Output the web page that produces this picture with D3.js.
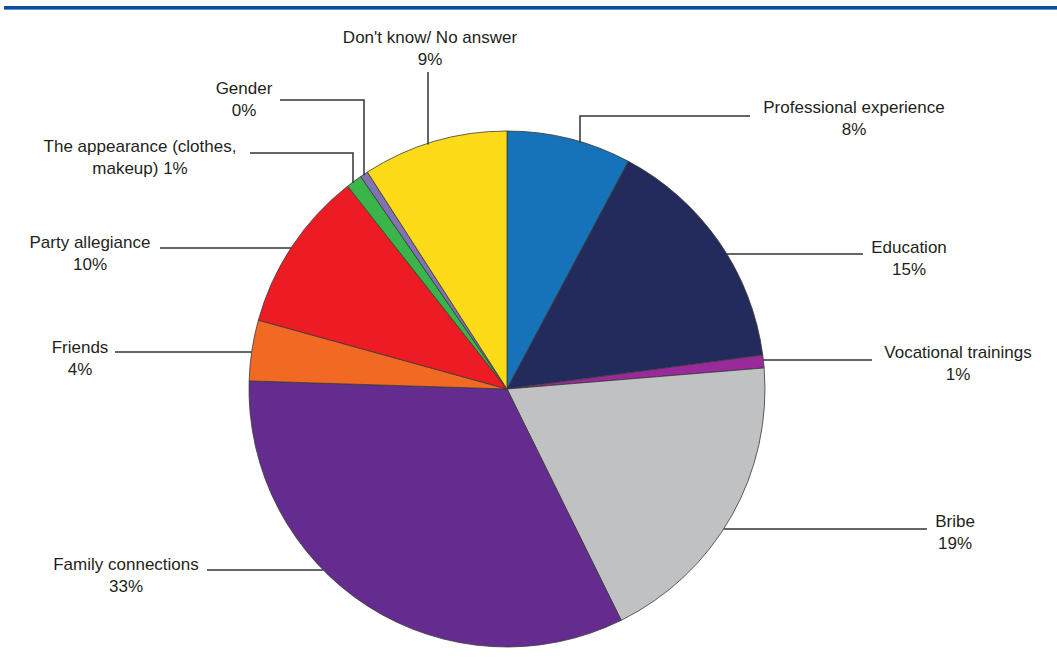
<!DOCTYPE html>
<html>
<head>
<meta charset="utf-8">
<script src="https://cdn.jsdelivr.net/npm/d3@7"></script>
<style>
  body { margin: 0; background: #fff; }
  svg { display: block; }
  .lbl { font-family: "Liberation Sans", Arial, sans-serif; font-size: 17px; fill: #231f20; }
</style>
</head>
<body>
<svg id="chart"></svg>
<script>
const width = 1057;
const height = 660;

// slices, clockwise from 12 o'clock
const categories = ["Professional experience", "Education", "Vocational trainings", "Bribe",
  "Family connections", "Friends", "Party allegiance", "The appearance (clothes, makeup)",
  "Gender", "Don't know/ No answer"];
const shares = [7.8, 15.1, 0.8, 19.0, 32.8, 3.8, 10.1, 1.0, 0.5, 9.1];
const percentLabels = ["8%", "15%", "1%", "19%", "33%", "4%", "10%", "1%", "0%", "9%"];
const colors = ["#1673b9", "#222b5b", "#9a2a99", "#c0c1c3", "#652c8f",
  "#f26924", "#ed1c24", "#3ab54a", "#8172b4", "#fedb18"];

// label layout: text lines, text centre, leader line
// kind "h": horizontal from lx at y ly to the circle
// kind "elbow": horizontal from lx to ex at ly, then down to the circle
// kind "v": vertical at ex from ly down to the circle
const labelLayout = [
  {lines: ["Professional experience", "8%"], tx: 854, ty: 107, kind: "elbow", lx: 750, ly: 116, ex: 580},
  {lines: ["Education", "15%"], tx: 909, ty: 247, kind: "h", lx: 863, ly: 254},
  {lines: ["Vocational trainings", "1%"], tx: 958, ty: 352, kind: "h", lx: 872, ly: 360},
  {lines: ["Bribe", "19%"], tx: 955, ty: 521, kind: "h", lx: 927, ly: 529},
  {lines: ["Family connections", "33%"], tx: 126, ty: 564, kind: "h", lx: 207, ly: 570},
  {lines: ["Friends", "4%"], tx: 80, ty: 347, kind: "h", lx: 115, ly: 352},
  {lines: ["Party allegiance", "10%"], tx: 90, ty: 242, kind: "h", lx: 160, ly: 248},
  {lines: ["The appearance (clothes,", "makeup) 1%"], tx: 140, ty: 146, kind: "elbow", lx: 250, ly: 153, ex: 353},
  {lines: ["Gender", "0%"], tx: 244, ty: 88, kind: "elbow", lx: 280, ly: 100, ex: 364},
  {lines: ["Don't know/ No answer", "9%"], tx: 430, ty: 37, kind: "v", ly: 72, ex: 428}
];

const cx = 507, cy = 389, radius = 258;

let svg = d3.select("#chart")
  .attr("width", width)
  .attr("height", height);

// top rule
svg.append("rect")
  .attr("x", 4).attr("y", 6)
  .attr("width", width - 4).attr("height", 4)
  .attr("fill", "#0e4f9c");
svg.append("line")
  .attr("x1", 4).attr("x2", width)
  .attr("y1", 9.5).attr("y2", 9.5)
  .attr("stroke", "#5d93d3").attr("stroke-width", 1);

let pie = d3.pie().sort(null).value(d => d);
let arc = d3.arc().innerRadius(0).outerRadius(radius);

let g = svg.append("g").attr("transform", "translate(" + cx + "," + cy + ")");

g.selectAll("path")
  .data(pie(shares))
  .enter()
  .append("path")
  .attr("d", arc)
  .attr("fill", (d, i) => colors[i])
  .attr("stroke", "#3a3a3a")
  .attr("stroke-width", 0.8)
  .attr("stroke-linejoin", "round");

// point on the circle for a given x (top half) or y (left/right side)
function circleAtX(x) {
  let dx = x - cx;
  return cy - Math.sqrt(radius * radius - dx * dx);
}
function circleAtY(y, side) {
  let dy = y - cy;
  return cx + side * Math.sqrt(radius * radius - dy * dy);
}

let leaders = svg.append("g")
  .attr("fill", "none")
  .attr("stroke", "#333")
  .attr("stroke-width", 1.5);

labelLayout.forEach(function(l) {
  let pts;
  if (l.kind === "h") {
    let side = l.lx > cx ? 1 : -1;
    pts = [[l.lx, l.ly], [circleAtY(l.ly, side), l.ly]];
  } else if (l.kind === "elbow") {
    pts = [[l.lx, l.ly], [l.ex, l.ly], [l.ex, circleAtX(l.ex) + 1]];
  } else {
    pts = [[l.ex, l.ly], [l.ex, circleAtX(l.ex) + 1]];
  }
  leaders.append("path").attr("d", d3.line()(pts));

  let t = svg.append("text")
    .attr("class", "lbl")
    .attr("text-anchor", "middle")
    .attr("x", l.tx)
    .attr("y", l.ty)
    .attr("dominant-baseline", "central");
  l.lines.forEach(function(s, j) {
    t.append("tspan").attr("x", l.tx).attr("dy", j === 0 ? 0 : 21.5).text(s);
  });
});
</script>
</body>
</html>
